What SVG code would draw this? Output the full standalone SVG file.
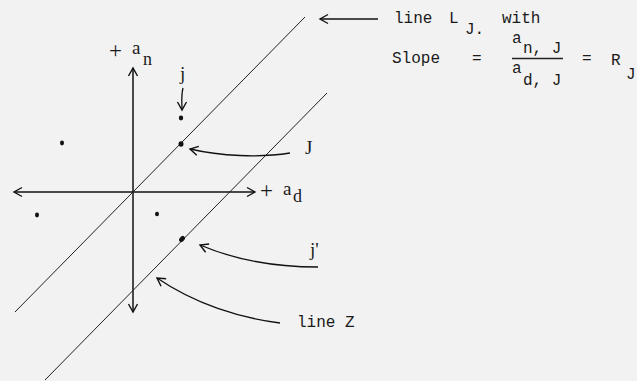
<svg xmlns="http://www.w3.org/2000/svg" width="637" height="381" viewBox="0 0 637 381">
<style>
.mono{font-family:"Liberation Mono","DejaVu Sans Mono",monospace;font-size:16px;fill:#1a1a1a}
.serif{font-family:"Liberation Serif","DejaVu Serif",serif;font-size:19px;fill:#1a1a1a}
.sub{font-size:18px}
.plus{font-size:23px}
.ln{stroke:#222;stroke-width:1;fill:none}
.ax{stroke:#111;stroke-width:1.5;fill:none}
.arr{stroke:#111;stroke-width:1.3;fill:none}
.dot{fill:#111}
</style>
<defs>
<marker id="ah" viewBox="-10 -6 12 12" refX="0" refY="0" markerWidth="12" markerHeight="12" markerUnits="userSpaceOnUse" orient="auto-start-reverse">
<path d="M-8,-4.5 L0,0 L-8,4.5" fill="none" stroke="#111" stroke-width="1.4"/>
</marker>
</defs>
<rect width="637" height="381" fill="#f2f2f2"/>

<g id="axes">
<line class="ax" x1="14" y1="192" x2="255" y2="192" marker-start="url(#ah)" marker-end="url(#ah)"/>
<line class="ax" x1="133" y1="68" x2="133" y2="312" marker-start="url(#ah)" marker-end="url(#ah)"/>
</g>

<g id="line-LJ">
<line class="ln" x1="15" y1="312" x2="305" y2="17"/>
</g>
<g id="line-Z">
<line class="ln" x1="45" y1="380" x2="327" y2="93"/>
</g>

<g id="point-j"><ellipse class="dot" cx="181" cy="118" rx="2.2" ry="2.4"/></g>
<g id="point-J"><ellipse class="dot" cx="181" cy="144" rx="2.5" ry="2.8"/></g>
<g id="point-j-prime"><ellipse class="dot" cx="182" cy="239" rx="2.4" ry="3.4" transform="rotate(40 182 239)"/></g>
<g id="point-a"><ellipse class="dot" cx="62" cy="143" rx="2" ry="2.4"/></g>
<g id="point-b"><ellipse class="dot" cx="37" cy="215" rx="2" ry="2.4"/></g>
<g id="point-c"><ellipse class="dot" cx="157" cy="214" rx="2" ry="2.2"/></g>

<g id="label-an">
<text class="serif plus" x="109" y="58">+</text>
<text class="serif" x="132" y="54">a</text>
<text class="serif sub" x="143" y="65">n</text>
</g>
<g id="label-ad">
<text class="serif plus" x="260" y="198">+</text>
<text class="serif" x="283" y="195">a</text>
<text class="serif sub" x="293" y="202">d</text>
</g>
<g id="label-j"><text class="serif" x="180" y="80">j</text></g>
<g id="label-J"><text class="serif" x="305" y="154">J</text></g>
<g id="label-j-prime"><text class="serif" x="310" y="256">j'</text></g>
<g id="label-lineZ"><text class="mono" x="297" y="327">line Z</text></g>

<g id="label-LJ">
<text class="mono" x="394" y="23">line</text>
<text class="mono" x="449" y="23">L</text>
<text class="mono" x="465" y="34" font-size="14">J.</text>
<text class="mono" x="502" y="23">with</text>
<text class="mono" x="392" y="63">Slope</text>
<text class="mono" x="472" y="63">=</text>
<text class="mono" x="512" y="43">a</text>
<text class="mono" x="523" y="53" font-size="15">n, J</text>
<line x1="512" y1="58.5" x2="563" y2="58.5" stroke="#222" stroke-width="1.3"/>
<text class="mono" x="512" y="73">a</text>
<text class="mono" x="523" y="85" font-size="15">d, J</text>
<text class="mono" x="582" y="63">=</text>
<text class="mono" x="611" y="65">R</text>
<text class="mono" x="626" y="79" font-size="15">J</text>
</g>

<g id="connectors">
<path class="arr" d="M378,19 L320,19" marker-end="url(#ah)"/>
<path class="arr" d="M183,88 C181,96 182,103 182,110" marker-end="url(#ah)"/>
<path class="arr" d="M290,153 C260,158 220,156 190,149" marker-end="url(#ah)"/>
<path class="arr" d="M318,267 C280,267 240,262 200,245" marker-end="url(#ah)"/>
<path class="arr" d="M280,323 C240,318 195,304 157,278" marker-end="url(#ah)"/>
</g>
</svg>
